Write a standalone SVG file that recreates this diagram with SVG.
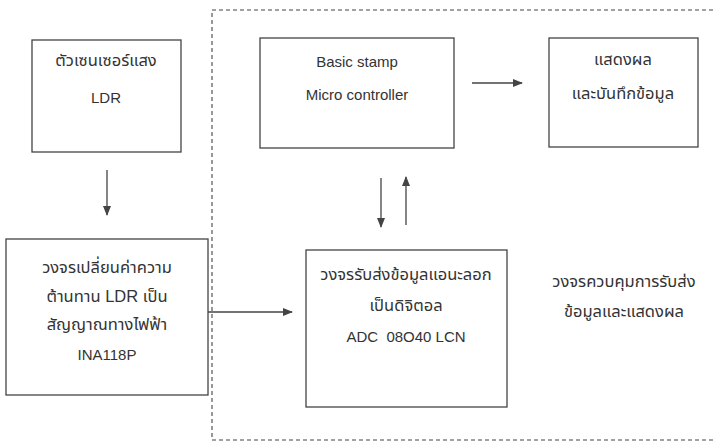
<svg xmlns="http://www.w3.org/2000/svg" width="714" height="445" viewBox="0 0 714 445">
<style>
.box{fill:none;stroke:#444;stroke-width:1.3}
.t{font-family:"Liberation Sans","Noto Sans Thai","Noto Sans",sans-serif;font-size:15px;fill:#333;text-anchor:middle}
.th{font-size:16.5px}
.c{stroke:#444;stroke-width:1.3;fill:none}
.dash{stroke:#444;stroke-width:1.1;fill:none;stroke-dasharray:4 3}
</style>
<defs>
<marker id="ah" markerWidth="10" markerHeight="8" refX="9" refY="4" orient="auto" markerUnits="userSpaceOnUse">
<path d="M0,0 L10,4 L0,8 Z" fill="#444"/>
</marker>
</defs>
<rect width="714" height="445" fill="#fff"/>
<path class="dash" d="M713,10 H212 V440 H713"/>
<g id="n1"><rect class="box" x="32" y="40" width="149" height="112"/>
<text class="t th" x="106" y="66">ตัวเซนเซอร์แสง</text>
<text class="t" x="106" y="103">LDR</text></g>
<g id="n2"><rect class="box" x="260" y="38" width="194" height="110"/>
<text class="t" x="357" y="67">Basic stamp</text>
<text class="t" x="357" y="100">Micro controller</text></g>
<g id="n3"><rect class="box" x="549" y="38" width="149" height="109"/>
<text class="t th" x="623" y="65">แสดงผล</text>
<text class="t th" x="623" y="99">และบันทึกข้อมูล</text></g>
<g id="n4"><rect class="box" x="6" y="239" width="202" height="156"/>
<text class="t th" x="107" y="273">วงจรเปลี่ยนค่าความ</text>
<text class="t th" x="107" y="302">ต้านทาน LDR เป็น</text>
<text class="t th" x="107" y="330">สัญญาณทางไฟฟ้า</text>
<text class="t" x="107" y="360">INA118P</text></g>
<g id="n5"><rect class="box" x="306" y="250" width="201" height="157"/>
<text class="t th" x="406" y="280">วงจรรับส่งข้อมูลแอนะลอก</text>
<text class="t th" x="406" y="311">เป็นดิจิตอล</text>
<text class="t" x="406" y="342" xml:space="preserve">ADC  08O40 LCN</text></g>
<g id="label"><text class="t th" x="624" y="287">วงจรควบคุมการรับส่ง</text>
<text class="t th" x="624" y="317">ข้อมูลและแสดงผล</text></g>
<g id="connectors">
<line class="c" x1="107" y1="170" x2="107" y2="215" marker-end="url(#ah)"/>
<line class="c" x1="472" y1="83" x2="522" y2="83" marker-end="url(#ah)"/>
<line class="c" x1="208" y1="312" x2="292" y2="312" marker-end="url(#ah)"/>
<line class="c" x1="381" y1="178" x2="381" y2="227" marker-end="url(#ah)"/>
<line class="c" x1="406" y1="225" x2="406" y2="177" marker-end="url(#ah)"/>
</g>
</svg>
